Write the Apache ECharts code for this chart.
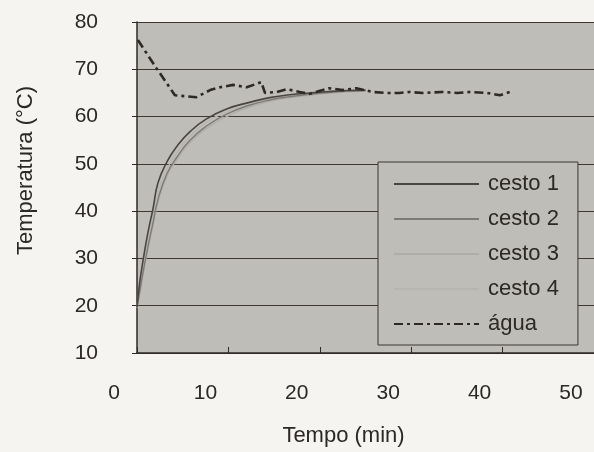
<!DOCTYPE html>
<html>
<head>
<meta charset="utf-8">
<script src="https://cdn.jsdelivr.net/npm/echarts@6/dist/echarts.min.js"></script>
<style>
html,body{margin:0;padding:0;background:#f5f4f1;}
#chart{width:594px;height:452px;}
</style>
</head>
<body>
<div id="chart"></div>
<script>
// Data
const xTicks = [0, 10, 20, 30, 40, 50];
const yTicks = [10, 20, 30, 40, 50, 60, 70, 80];
const seriesNames = ['cesto 1', 'cesto 2', 'cesto 3', 'cesto 4', 'água'];

const cestoTime = [0, 0.3, 0.7, 1.2, 1.75, 2.3, 3.3, 4.4, 5.8, 7.6, 9.8, 12.3, 14.5, 16.7, 18.9, 21, 23, 25];
const cesto1 = [19.7, 25, 30, 35.5, 40.5, 46, 50.5, 53.8, 56.8, 59.5, 61.6, 63, 64, 64.6, 65, 65.3, 65.5, 65.6];
const cesto2 = [19.7, 23, 27.5, 32.5, 37.5, 42.5, 48, 51.5, 55, 58, 60.5, 62.4, 63.5, 64.2, 64.7, 65.1, 65.4, 65.5];
const cesto3 = [19.5, 22.5, 27, 32, 37, 42, 47.5, 51, 54.5, 57.5, 60, 62, 63.2, 64, 64.5, 64.9, 65.2, 65.4];
const cesto4 = [20, 24, 29, 34, 39, 44, 49, 52.5, 55.8, 58.8, 61, 62.6, 63.7, 64.4, 64.8, 65.2, 65.4, 65.5];

const aguaTime = [0.1, 2.1, 4.15, 5.3, 6.5, 8, 9.1, 10.5, 12, 13.2, 13.6, 14, 15.3, 16.4, 17.8, 18.9, 21, 22.5, 24, 25.8, 27.3, 28.7, 29.8, 31.3, 33.4, 35, 36.4, 38.3, 39.7, 40.8];
const agua = [76.2, 70.3, 64.5, 64.3, 64.1, 65.6, 66.2, 66.7, 66.2, 67, 67.3, 65, 65.2, 65.8, 65.2, 64.8, 66, 65.6, 66, 65.2, 65, 65, 65.2, 65, 65.2, 65, 65.2, 65, 64.5, 65.2];

const pair = (ts, vs) => ts.map((t, i) => [t, vs[i]]);

const FONT = 'Liberation Sans, Arial, sans-serif';
const TXT = '#2b2826';
const PLOT_BG = '#bfbdb8';
const GRID = '#3f3832';

const chart = echarts.init(document.getElementById('chart'), null, {renderer: 'canvas'});
chart.setOption({
  animation: false,
  backgroundColor: '#f5f4f1',
  grid: {left: 137, right: 0, top: 22, bottom: 99, show: true, backgroundColor: PLOT_BG, borderWidth: 0},
  legend: {
    orient: 'vertical',
    left: 378, top: 162,
    padding: [11, 19, 10, 15],
    itemWidth: 85, itemHeight: 20, itemGap: 13,
    backgroundColor: PLOT_BG,
    borderColor: '#3a3430', borderWidth: 1,
    itemStyle: {opacity: 0},
    textStyle: {fontFamily: FONT, fontSize: 22, color: TXT, lineHeight: 20, padding: [0, 0, 0, 4]},
    data: seriesNames
  },
  xAxis: {
    type: 'value', min: xTicks[0], max: xTicks[xTicks.length - 1], interval: 10,
    name: 'Tempo (min)', nameLocation: 'middle', nameGap: 72,
    nameTextStyle: {fontFamily: FONT, fontSize: 22, color: TXT, padding: [0, 44, 0, 0]},
    axisLine: {show: true, lineStyle: {color: '#2f2a27', width: 1.5}},
    axisTick: {show: true, inside: true, length: 6, lineStyle: {color: '#2f2a27'}},
    axisLabel: {fontFamily: FONT, fontSize: 21, color: TXT, margin: 30, padding: [0, 46, 0, 0]},
    splitLine: {show: false}
  },
  yAxis: {
    type: 'value', min: yTicks[0], max: yTicks[yTicks.length - 1], interval: 10,
    name: 'Temperatura (°C)', nameLocation: 'middle', nameGap: 100,
    nameTextStyle: {fontFamily: FONT, fontSize: 22, color: TXT, padding: [0, 0, 0, 34]},
    axisLine: {show: true, lineStyle: {color: '#2f2a27', width: 1.5}},
    axisTick: {show: true, length: 5, lineStyle: {color: '#2f2a27'}},
    axisLabel: {fontFamily: FONT, fontSize: 21, color: TXT, margin: 39},
    splitLine: {show: true, lineStyle: {color: GRID, width: 1.2}}
  },
  series: [
    {name: seriesNames[0], type: 'line', symbol: 'none', smooth: true, data: pair(cestoTime, cesto1), lineStyle: {color: '#4a4542', width: 1.6}, itemStyle: {color: '#4a4542'}, z: 5},
    {name: seriesNames[1], type: 'line', symbol: 'none', smooth: true, data: pair(cestoTime, cesto2), lineStyle: {color: '#7d7a78', width: 1.4}, itemStyle: {color: '#7d7a78'}, z: 4},
    {name: seriesNames[2], type: 'line', symbol: 'none', smooth: true, data: pair(cestoTime, cesto3), lineStyle: {color: '#afada9', width: 1.3}, itemStyle: {color: '#afada9'}, z: 3},
    {name: seriesNames[3], type: 'line', symbol: 'none', smooth: true, data: pair(cestoTime, cesto4), lineStyle: {color: '#b7b5b1', width: 1.3}, itemStyle: {color: '#b7b5b1'}, z: 3},
    {name: seriesNames[4], type: 'line', symbol: 'none', smooth: false, data: pair(aguaTime, agua), lineStyle: {color: '#2e2926', width: 2.6, type: [9, 4, 3, 4]}, itemStyle: {color: '#2e2926'}, z: 6}
  ]
});
</script>
</body>
</html>
